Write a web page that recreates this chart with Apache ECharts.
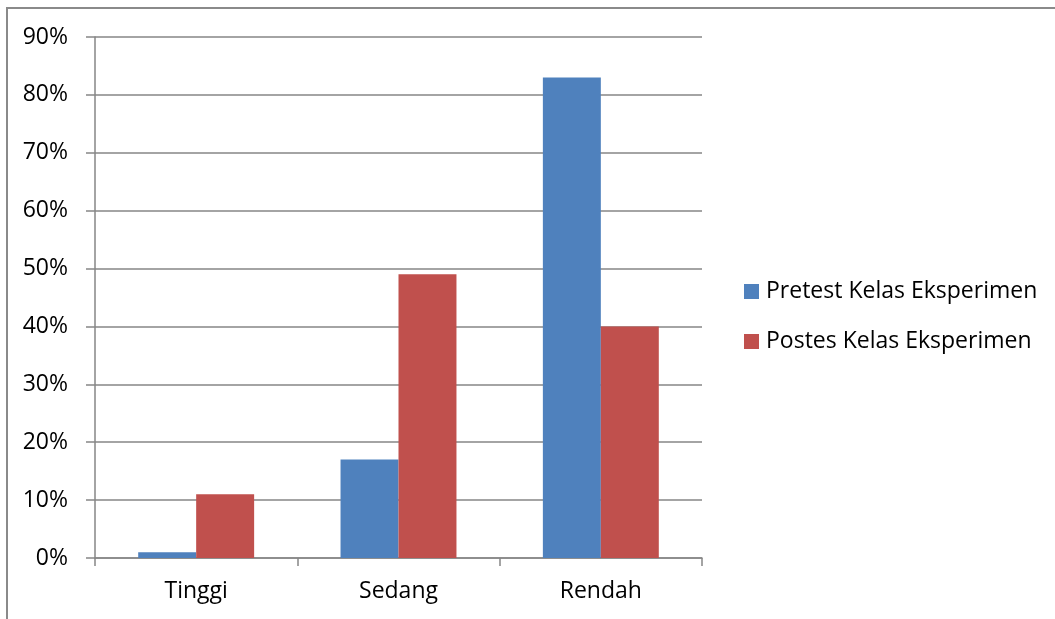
<!DOCTYPE html>
<html>
<head>
<meta charset="utf-8">
<script src="https://cdn.jsdelivr.net/npm/echarts@6/dist/echarts.min.js"></script>
<style>
html,body{margin:0;padding:0;background:#fff;}
#chart{width:1055px;height:619px;}
</style>
</head>
<body>
<div id="chart"></div>
<script>
var categories = ['Tinggi', 'Sedang', 'Rendah'];
var pretest = [1, 17, 83];
var postes = [11, 49, 40];
var seriesNames = ['Pretest Kelas Eksperimen', 'Postes Kelas Eksperimen'];
var yTicks = {min: 0, max: 90, interval: 10};

var FONT = 'Open Sans';
var chart = echarts.init(document.getElementById('chart'));
chart.setOption({
  animation: false,
  backgroundColor: '#fff',
  graphic: [{
    type: 'rect',
    shape: {x: 7, y: 8, width: 1200, height: 800},
    style: {fill: 'none', stroke: '#8a8a8a', lineWidth: 2},
    silent: true
  }],
  grid: {left: 95, top: 37, right: 353, bottom: 61, containLabel: false},
  legend: {
    orient: 'vertical',
    left: 744,
    top: 280,
    padding: 0,
    itemWidth: 15,
    itemHeight: 15,
    itemGap: 27,
    icon: 'rect',
    textStyle: {fontFamily: FONT, fontSize: 23, lineHeight: 23, color: '#000', padding: [0, 0, 0, 2]},
    data: seriesNames
  },
  xAxis: {
    type: 'category',
    data: categories,
    axisLine: {lineStyle: {color: '#868686', width: 1.5}},
    axisTick: {show: true, length: 8, lineStyle: {color: '#868686', width: 1.5}},
    axisLabel: {fontFamily: FONT, fontSize: 23, color: '#000', margin: 22}
  },
  yAxis: {
    type: 'value',
    min: yTicks.min,
    max: yTicks.max,
    interval: yTicks.interval,
    axisLine: {show: true, lineStyle: {color: '#868686', width: 1.5}},
    axisTick: {show: true, length: 9, lineStyle: {color: '#868686', width: 1.5}},
    splitLine: {show: true, lineStyle: {color: '#868686', width: 1.5}},
    axisLabel: {fontFamily: FONT, fontSize: 23, color: '#000', margin: 27, formatter: '{value}%'}
  },
  series: [{
    name: seriesNames[0],
    type: 'bar',
    data: pretest,
    barGap: '0%',
    barCategoryGap: '42.7%',
    itemStyle: {color: '#4F81BD'}
  }, {
    name: seriesNames[1],
    type: 'bar',
    data: postes,
    barGap: '0%',
    barCategoryGap: '42.7%',
    itemStyle: {color: '#C0504D'}
  }]
});
</script>
</body>
</html>
